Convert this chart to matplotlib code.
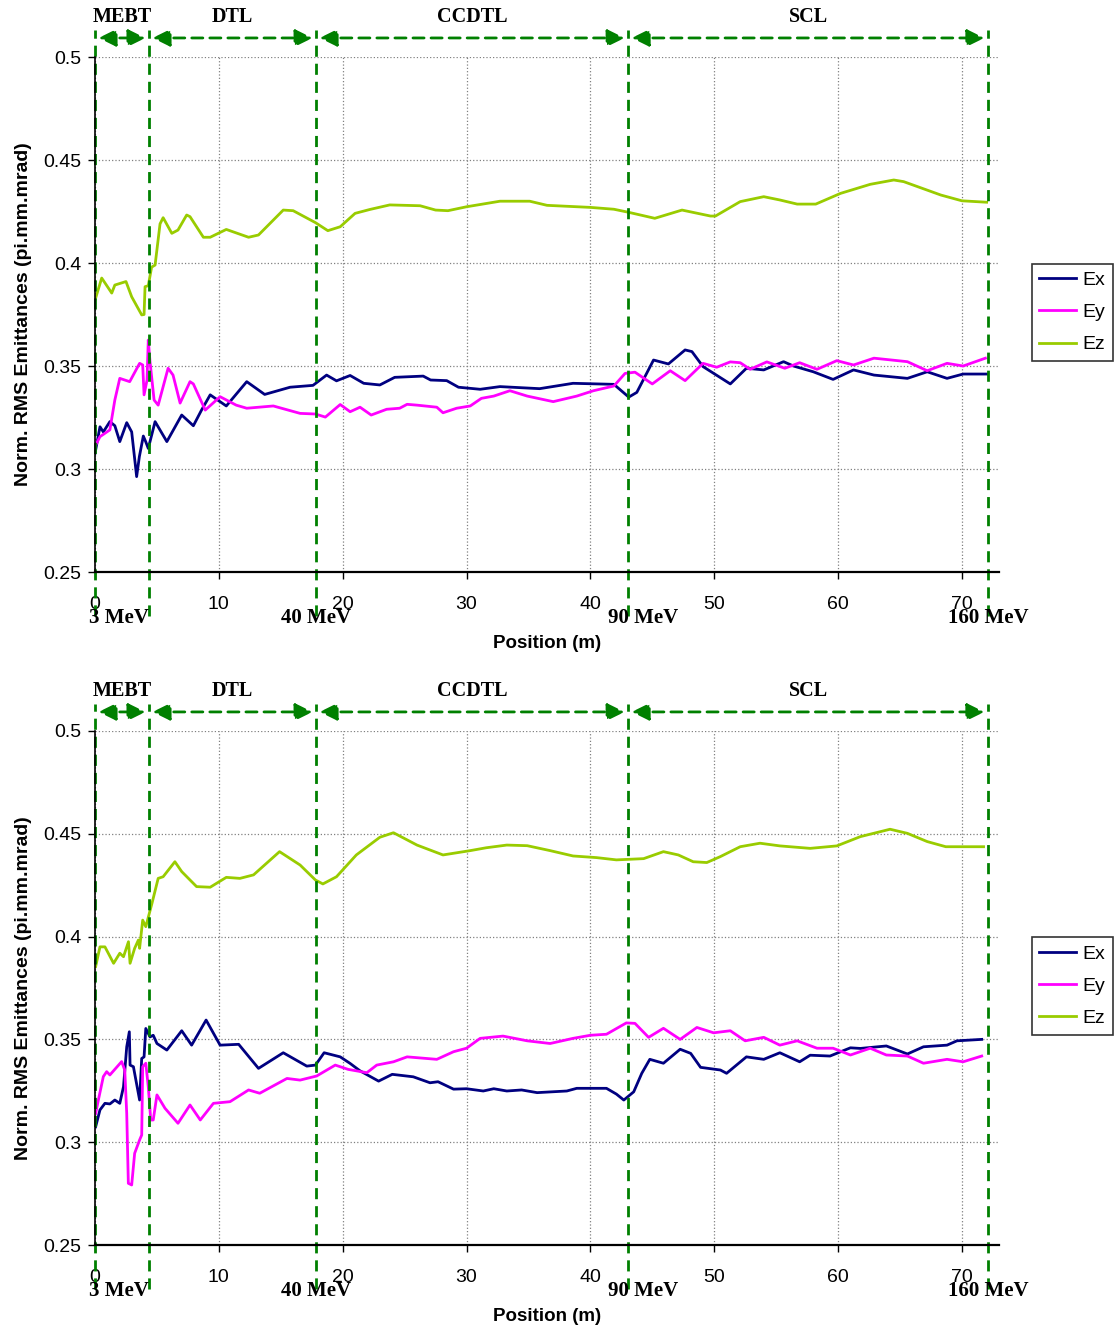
import matplotlib.pyplot as plt
import matplotlib.transforms as mtransforms

plt.rcParams['font.family'] = ['Liberation Sans', 'DejaVu Sans']

# Secciones del acelerador (limites en m) y energias
secciones = ["MEBT", "DTL", "CCDTL", "SCL"]
limites = [0, 4.36, 17.85, 43.05, 72.1]
energias = ["3 MeV", "40 MeV", "90 MeV", "160 MeV"]
pos_energias = [limites[0], limites[2], limites[3], limites[4]]

# ---- Grafico superior ----
x_ex_1 = [0, 0.4, 0.67, 1.2, 1.6, 2.0, 2.56, 2.96, 3.36, 3.58,
          3.9, 4.09, 4.3, 4.85, 5.8, 7.0, 7.94, 8.6, 9.3, 10.6,
          12.25, 13.7, 15.75, 17.6, 18.7, 19.5, 20.6, 21.7, 23.0, 24.2,
          26.5, 27.1, 28.4, 29.35, 31.1, 32.7, 35.9, 38.6, 41.9, 43.1,
          43.75, 45.1, 46.3, 47.65, 48.2, 49.1, 51.3, 52.6, 54.0, 55.6,
          56.4, 58.0, 59.6, 61.25, 62.9, 65.6, 67.2, 68.8, 70.1, 72.0]
ex_1 = [0.3076, 0.3205, 0.318, 0.323, 0.321, 0.3133, 0.3225, 0.318, 0.2963, 0.306,
        0.316, 0.3133, 0.31, 0.323, 0.3133, 0.3262, 0.321, 0.3286, 0.336, 0.3306,
        0.3424, 0.3362, 0.3397, 0.3406, 0.3456, 0.3428, 0.3454, 0.3416, 0.3408, 0.3445,
        0.3451, 0.3432, 0.3429, 0.3397, 0.3387, 0.34, 0.339, 0.3416, 0.3411, 0.3349,
        0.3372, 0.3529, 0.351, 0.3578, 0.357, 0.3497, 0.3413, 0.3489, 0.3481, 0.3521,
        0.35, 0.3472, 0.3435, 0.3481, 0.3456, 0.344, 0.3472, 0.344, 0.3461, 0.3461]

x_ey_1 = [0, 0.4, 1.2, 1.6, 2.0, 2.4, 2.8, 3.6, 3.85, 3.96,
          4.2, 4.3, 4.44, 4.77, 5.1, 5.9, 6.3, 6.87, 7.67, 7.94,
          8.9, 10.1, 11.4, 12.25, 14.4, 16.56, 17.8, 18.6, 19.8, 20.6,
          21.4, 22.3, 23.55, 24.6, 25.2, 26.0, 27.6, 28.1, 29.2, 30.3,
          31.2, 32.2, 33.5, 34.9, 37.0, 38.9, 40.25, 41.9, 42.8, 43.6,
          45.0, 46.45, 47.65, 49.1, 50.2, 51.3, 52.1, 52.9, 54.25, 55.7,
          56.9, 58.3, 59.9, 61.25, 62.9, 65.6, 67.2, 68.8, 70.1, 71.9]
ey_1 = [0.311, 0.3157, 0.319, 0.3335, 0.344, 0.3432, 0.3424, 0.3513, 0.3505, 0.336,
        0.3432, 0.3626, 0.3521, 0.3335, 0.331, 0.3489, 0.3456, 0.332, 0.3424, 0.3413,
        0.3286, 0.3351, 0.331, 0.3295, 0.3306, 0.327, 0.3267, 0.3252, 0.3313, 0.3278,
        0.33, 0.3262, 0.329, 0.3295, 0.3314, 0.331, 0.33, 0.3273, 0.3295, 0.3306,
        0.3343, 0.3354, 0.338, 0.3354, 0.3327, 0.3354, 0.338, 0.3403, 0.3464, 0.347,
        0.3413, 0.3477, 0.3429, 0.3513, 0.3494, 0.352, 0.3516, 0.3484, 0.352, 0.3489,
        0.3516, 0.3484, 0.3526, 0.3505, 0.3538, 0.3521, 0.3477, 0.3513, 0.35, 0.3538]

x_ez_1 = [0, 0.54, 1.35, 1.6, 2.5, 2.96, 3.77, 3.96, 4.04, 4.3,
          4.57, 4.85, 5.25, 5.5, 6.2, 6.7, 7.4, 7.67, 8.75, 9.3,
          10.6, 12.4, 13.2, 15.2, 16.0, 17.8, 18.8, 19.8, 21.0, 22.2,
          23.8, 26.25, 27.5, 28.5, 30.0, 32.7, 35.1, 36.5, 40.0, 41.9,
          43.1, 45.2, 47.4, 49.7, 50.1, 52.1, 54.0, 55.3, 56.7, 58.2,
          60.2, 62.6, 64.5, 65.3, 68.3, 70.0, 72.0]
ez_1 = [0.382, 0.3927, 0.3854, 0.3893, 0.391, 0.3836, 0.3748, 0.375, 0.3885, 0.389,
        0.398, 0.399, 0.419, 0.422, 0.4144, 0.416, 0.4233, 0.4225, 0.4125, 0.4125,
        0.4163, 0.4125, 0.4136, 0.4257, 0.4254, 0.4196, 0.4157, 0.4176, 0.4241, 0.426,
        0.4282, 0.4278, 0.4257, 0.4254, 0.4273, 0.43, 0.43, 0.428, 0.427, 0.4261,
        0.4246, 0.4217, 0.4257, 0.4228, 0.4228, 0.4298, 0.4322, 0.4306, 0.4286, 0.4286,
        0.4338, 0.4382, 0.4403, 0.4395, 0.433, 0.4302, 0.4295]

# ---- Grafico inferior ----
x_ex_2 = [0.05, 0.4, 0.8, 1.2, 1.6, 2.0, 2.3, 2.56, 2.77, 2.83,
          3.1, 3.6, 3.77, 3.96, 4.1, 4.3, 4.44, 4.7, 5.0, 5.8,
          7.0, 7.8, 8.97, 10.1, 11.6, 13.2, 15.2, 17.1, 17.8, 18.5,
          19.8, 20.6, 21.4, 22.9, 24.0, 25.7, 27.05, 27.7, 28.95, 30.0,
          31.35, 32.2, 33.25, 34.45, 35.7, 38.1, 38.9, 41.3, 42.1, 42.7,
          43.5, 44.15, 44.8, 45.9, 47.25, 48.1, 48.9, 50.5, 51.0, 52.6,
          54.0, 55.3, 56.9, 57.75, 59.35, 61.0, 61.8, 63.9, 65.6, 66.9,
          68.8, 69.6, 71.6]
ex_2 = [0.3075, 0.3157, 0.3189, 0.3186, 0.3205, 0.3189, 0.327, 0.3464, 0.3537, 0.3375,
        0.3367, 0.3205, 0.3407, 0.3415, 0.3553, 0.3529, 0.3512, 0.352, 0.348, 0.3448,
        0.3542, 0.3472, 0.3594, 0.3472, 0.3476, 0.3359, 0.3435, 0.337, 0.3375, 0.3435,
        0.3415, 0.3383, 0.3347, 0.3297, 0.333, 0.3318, 0.3289, 0.3294, 0.3258, 0.326,
        0.3249, 0.326, 0.3249, 0.3254, 0.3241, 0.3249, 0.3262, 0.3262, 0.3234, 0.3205,
        0.3245, 0.3335, 0.3403, 0.3384, 0.3452, 0.3432, 0.3364, 0.3351, 0.3335, 0.3415,
        0.3403, 0.3435, 0.3391, 0.3423, 0.3419, 0.3459, 0.3456, 0.3468, 0.3429, 0.3464,
        0.3472, 0.3493, 0.35]

x_ey_2 = [0.05, 0.27, 0.67, 0.94, 1.2, 2.15, 2.4, 2.56, 2.69, 2.96,
          3.2, 3.6, 3.77, 3.85, 4.1, 4.3, 4.5, 4.7, 5.0, 5.65,
          6.7, 7.67, 8.5, 9.56, 10.9, 12.4, 13.3, 15.5, 16.56, 17.9,
          19.4, 20.45, 21.95, 22.75, 24.1, 25.2, 27.6, 28.95, 30.0, 31.1,
          32.95, 34.9, 36.75, 38.6, 40.0, 41.3, 42.9, 43.6, 44.7, 45.9,
          47.25, 48.6, 49.95, 51.3, 52.5, 54.0, 55.3, 56.7, 58.3, 59.6,
          61.0, 62.6, 63.9, 65.6, 66.9, 68.8, 70.1, 71.6]
ey_2 = [0.314, 0.3205, 0.3319, 0.3343, 0.3327, 0.3392, 0.3351, 0.314, 0.28, 0.2792,
        0.2946, 0.3011, 0.3035, 0.3367, 0.3384, 0.327, 0.3108, 0.3108, 0.323, 0.3165,
        0.3092, 0.3181, 0.3108, 0.3189, 0.3197, 0.3254, 0.3238, 0.331, 0.3302, 0.3322,
        0.3375, 0.3354, 0.3338, 0.3375, 0.3391, 0.3415, 0.3403, 0.344, 0.3457, 0.3505,
        0.3516, 0.3493, 0.348, 0.3505, 0.352, 0.3525, 0.358, 0.3578, 0.351, 0.3554,
        0.35, 0.3558, 0.3532, 0.3542, 0.3493, 0.351, 0.3472, 0.3493, 0.3457, 0.3457,
        0.3424, 0.3457, 0.3424, 0.3419, 0.3384, 0.3403, 0.3391, 0.3419]

x_ez_2 = [0.05, 0.4, 0.8, 1.5, 2.0, 2.3, 2.7, 2.83, 3.2, 3.5,
          3.6, 3.85, 4.1, 4.6, 5.1, 5.5, 6.45, 7.0, 8.2, 9.3,
          10.6, 11.7, 12.8, 14.9, 16.56, 17.8, 18.4, 19.5, 21.1, 23.0,
          24.1, 26.0, 28.1, 30.3, 31.6, 33.25, 34.9, 36.75, 38.6, 40.5,
          42.1, 44.3, 45.9, 47.1, 48.3, 49.4, 50.5, 52.1, 53.7, 55.3,
          57.75, 59.9, 61.8, 64.2, 65.6, 67.2, 68.7, 71.75]
ez_2 = [0.3854, 0.395, 0.395, 0.387, 0.3919, 0.3902, 0.3975, 0.387, 0.3943, 0.3983,
        0.3943, 0.408, 0.4048, 0.4162, 0.4283, 0.4291, 0.4364, 0.4316, 0.4243, 0.424,
        0.4288, 0.4283, 0.43, 0.4413, 0.4348, 0.4275, 0.4256, 0.4291, 0.4397, 0.4483,
        0.4505, 0.4445, 0.4397, 0.4418, 0.4432, 0.4445, 0.4442, 0.4418, 0.4392, 0.4384,
        0.4373, 0.4379, 0.4413, 0.4397, 0.4364, 0.436, 0.4389, 0.4437, 0.4454, 0.4441,
        0.4429, 0.4441, 0.4486, 0.4522, 0.4502, 0.4462, 0.4437, 0.4437]

verde = "#008000"
serif = ["Liberation Serif", "DejaVu Serif"]


def dibujar(ax, ex, ey, ez):
    ax.plot(ex[0], ex[1], color="#000080", lw=2, label="Ex")
    ax.plot(ey[0], ey[1], color="#FF00FF", lw=2, label="Ey")
    ax.plot(ez[0], ez[1], color="#99CC00", lw=2, label="Ez")

    ax.set_xlim(0, 73)
    ax.set_ylim(0.25, 0.5)
    ax.set_xticks(range(0, 71, 10))
    ax.set_yticks([0.25, 0.3, 0.35, 0.4, 0.45, 0.5])
    ax.set_yticklabels(["0.25", "0.3", "0.35", "0.4", "0.45", "0.5"])
    ax.grid(True, color="#808080", linestyle=":", linewidth=0.9)
    ax.set_axisbelow(True)
    for s in ["top", "right"]:
        ax.spines[s].set_visible(False)
    ax.spines["left"].set_linewidth(1.2)
    ax.spines["bottom"].set_linewidth(1.6)
    ax.tick_params(axis="y", labelsize=14, length=5, width=1, pad=5)
    ax.tick_params(axis="x", labelsize=14, length=5, width=1, pad=12)

    ax.set_xlabel("Position (m)", fontsize=13.5, fontweight="bold", labelpad=16)
    ax.set_ylabel("Norm. RMS Emittances (pi.mm.mrad)", fontsize=14,
                  fontweight="bold", labelpad=8)

    # Lineas de separacion de secciones
    tr = mtransforms.blended_transform_factory(ax.transData, ax.transAxes)
    for b in limites:
        ax.plot([b, b], [-0.085, 1.052], transform=tr, clip_on=False,
                color=verde, lw=2, linestyle=(0, (4, 2.5)))

    # Flechas y nombres de las secciones
    for i, nombre in enumerate(secciones):
        a, b = limites[i], limites[i + 1]
        ax.annotate("", xy=(b, 1.037), xytext=(a, 1.037), xycoords=tr,
                    textcoords=tr, annotation_clip=False,
                    arrowprops=dict(arrowstyle="<|-|>,head_length=0.55,head_width=0.27",
                                    color=verde, lw=2, linestyle=(0, (4, 2.5)),
                                    shrinkA=2.5, shrinkB=2.5, mutation_scale=19))
        ax.text((a + b) / 2, 1.078, nombre, transform=tr, ha="center",
                va="center", fontsize=14.5, fontweight="bold", family=serif)

    # Energias debajo del eje
    desplaz = [1.9, 0, 1.2, 0]
    for b, e, d in zip(pos_energias, energias, desplaz):
        ax.text(b + d, -0.09, e, transform=tr, ha="center", va="center",
                fontsize=15, fontweight="bold", family=serif)

    ax.legend(loc="center left", bbox_to_anchor=(1.036, 0.504), fontsize=14,
              frameon=True, fancybox=False, edgecolor="black",
              handlelength=1.9, handletextpad=0.3, borderpad=0.4,
              labelspacing=0.75, borderaxespad=0)
    ax.get_legend().get_frame().set_linewidth(1.2)


fig = plt.figure(figsize=(11.14, 13.29), dpi=100)
ax1 = fig.add_axes([0.0853, 0.5696, 0.8115, 0.3875])
ax2 = fig.add_axes([0.0853, 0.0632, 0.8115, 0.3868])

dibujar(ax1, (x_ex_1, ex_1), (x_ey_1, ey_1), (x_ez_1, ez_1))
dibujar(ax2, (x_ex_2, ex_2), (x_ey_2, ey_2), (x_ez_2, ez_2))

plt.savefig("out.png", dpi=100)
